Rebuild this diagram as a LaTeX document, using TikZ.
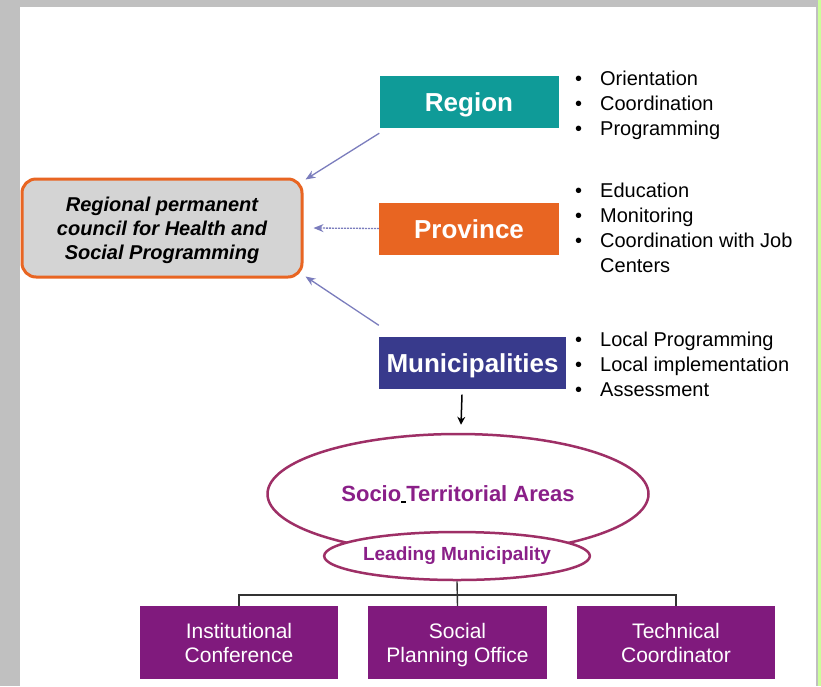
\documentclass[tikz,border=0pt]{standalone}
\usepackage{fontspec}
\setmainfont{Liberation Sans}
\usetikzlibrary{shapes.geometric,arrows.meta}
\definecolor{teal}{RGB}{15,155,152}
\definecolor{orng}{RGB}{232,101,34}
\definecolor{navy}{RGB}{56,58,140}
\definecolor{plum}{RGB}{128,26,125}
\definecolor{plumtext}{RGB}{138,31,136}
\definecolor{maroon}{RGB}{158,47,102}
\definecolor{linkblue}{RGB}{123,125,189}
\definecolor{frame}{RGB}{192,192,192}
\definecolor{lime}{RGB}{204,255,153}
\tikzset{
  level/.style={rectangle,text=white,inner sep=2pt,minimum height=52pt,
    text height=19pt,text depth=0pt,font=\fontsize{26}{30}\selectfont\bfseries},
  duties/.style={anchor=west,inner sep=0pt,font=\fontsize{20}{25}\selectfont},
  link/.style={draw=linkblue,line width=1.3pt,-{Stealth[length=10pt,width=8pt]}},
  ring/.style={ellipse,draw=maroon,line width=2.5pt,inner sep=0pt,text=plumtext},
  office/.style={rectangle,fill=plum,text=white,align=center,minimum height=73pt,
    text height=39pt,text depth=0pt,font=\fontsize{21}{24}\selectfont},
  tree/.style={draw=black!80,line width=1.4pt}
}
\begin{document}
\begin{tikzpicture}[x=1pt,y=-1pt]
\useasboundingbox (0,0) rectangle (821,686);
\fill[frame] (0,0) rectangle (818,686);
\fill[white] (20,7) rectangle (816,686);
\fill[lime] (818,0) rectangle (821,686);

\node[level,fill=teal,minimum width=179pt] (region) at (469,102) {Region};
\node[level,fill=orng,minimum width=180pt] (province) at (469,228.5) {Province};
\node[level,fill=navy,minimum width=187pt] (munic) at (472.5,362.5) {Municipalities};

\node[rectangle,rounded corners=14pt,draw=orng,fill=black!17,line width=3pt,
  minimum width=280pt,minimum height=98pt,align=center,text height=62pt,text depth=0pt,
  font=\fontsize{20}{24}\selectfont\bfseries\itshape] (council) at (162,228)
  {Regional permanent\\council for Health and\\Social Programming};

\node[duties] (regionlist) at (575,105) {\begin{tabular}{@{}p{25pt}@{}l@{}}
  • & Orientation\\ • & Coordination\\ • & Programming\end{tabular}};
\node[duties] (provincelist) at (575,230) {\begin{tabular}{@{}p{25pt}@{}l@{}}
  • & Education\\ • & Monitoring\\ • & Coordination with Job\\ & Centers\end{tabular}};
\node[duties] (municlist) at (575,366) {\begin{tabular}{@{}p{25pt}@{}l@{}}
  • & Local Programming\\ • & Local implementation\\ • & Assessment\end{tabular}};

\draw[link] ([yshift=-5pt]region.south west) -- ([shift={(2pt,-2pt)}]council.north east);
\draw[link,dash pattern=on 2pt off 1pt] (province.west) -- ([xshift=10pt]council.east);
\draw[link] ([yshift=11pt]munic.north west) -- ([shift={(2pt,2pt)}]council.south east);

\node[ring,minimum width=381pt,minimum height=120pt,
  font=\fontsize{22}{26}\selectfont\bfseries] (areas) at (458,494)
  {Socio\textcolor{black}{\rule[-1.5pt]{5pt}{1.5pt}}Territorial Areas};
\node[ring,fill=white,minimum width=262pt,minimum height=48pt,
  font=\fontsize{19}{22}\selectfont\bfseries] (lead) at (457,556) {Leading Municipality};
\draw[-{Stealth[length=8pt,width=8pt]},line width=1.5pt] ([xshift=-10.5pt,yshift=-6pt]munic.south)
  -- ([xshift=3pt,yshift=8pt]areas.north);

\node[office,minimum width=198pt] (conference) at (239,642.5) {Institutional\\Conference};
\node[office,minimum width=179pt] (planning) at (457.5,642.5) {Social\\Planning Office};
\node[office,minimum width=198pt] (coordinator) at (676,642.5) {Technical\\Coordinator};

\coordinate (bus) at (457.5,595);
\draw[tree] (lead.south) -- (planning.north);
\draw[tree] (conference.north) |- (bus) -| (coordinator.north);
\end{tikzpicture}
\end{document}
